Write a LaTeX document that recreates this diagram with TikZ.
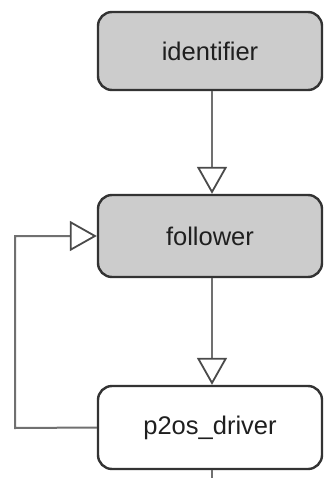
\documentclass[tikz,border=0pt]{standalone}
\usepackage{fontspec}
\setmainfont{Liberation Sans}
\usetikzlibrary{arrows.meta}
\definecolor{boxfill}{HTML}{CCCCCC}
\definecolor{boxline}{HTML}{333333}
\definecolor{wire}{HTML}{707070}
\definecolor{tipline}{HTML}{4A4A4A}
\begin{document}
\begin{tikzpicture}[x=1pt,y=-1pt,
  nodebox/.style={draw=boxline, line width=2.4pt, rounded corners=14pt,
    minimum width=224pt, inner sep=0pt, font=\fontsize{25.5}{30}\selectfont, text=black!88},
  shaded/.style={nodebox, fill=boxfill},
  plain/.style={nodebox, fill=white},
  link/.style={draw=wire, line width=2pt,
    -{Triangle[open, length=27pt, width=30pt, line width=1.8pt, fill=white, color=tipline]}}]
  \useasboundingbox (0,0) rectangle (324,478);
  \node[shaded, minimum height=78pt] (ident) at (210,51) {identifier};
  \node[shaded, minimum height=82pt] (follow) at (210,236) {follower};
  \node[plain, minimum height=83pt] (driver) at (210,427.5) {p2os\_driver};
  \coordinate (below) at (212,478);
  \coordinate (loopb) at (15,428);
  \coordinate (loopt) at (15,236);
  \draw[link] (ident.south -| 212,0) -- (follow.north -| 212,0);
  \draw[link] (follow.south -| 212,0) -- (driver.north -| 212,0);
  \draw[link] (driver.west) -- (loopb) -- (loopt) -- (follow.west);
  \draw[draw=wire, line width=2pt] (driver.south -| below) -- (below);
\end{tikzpicture}
\end{document}
